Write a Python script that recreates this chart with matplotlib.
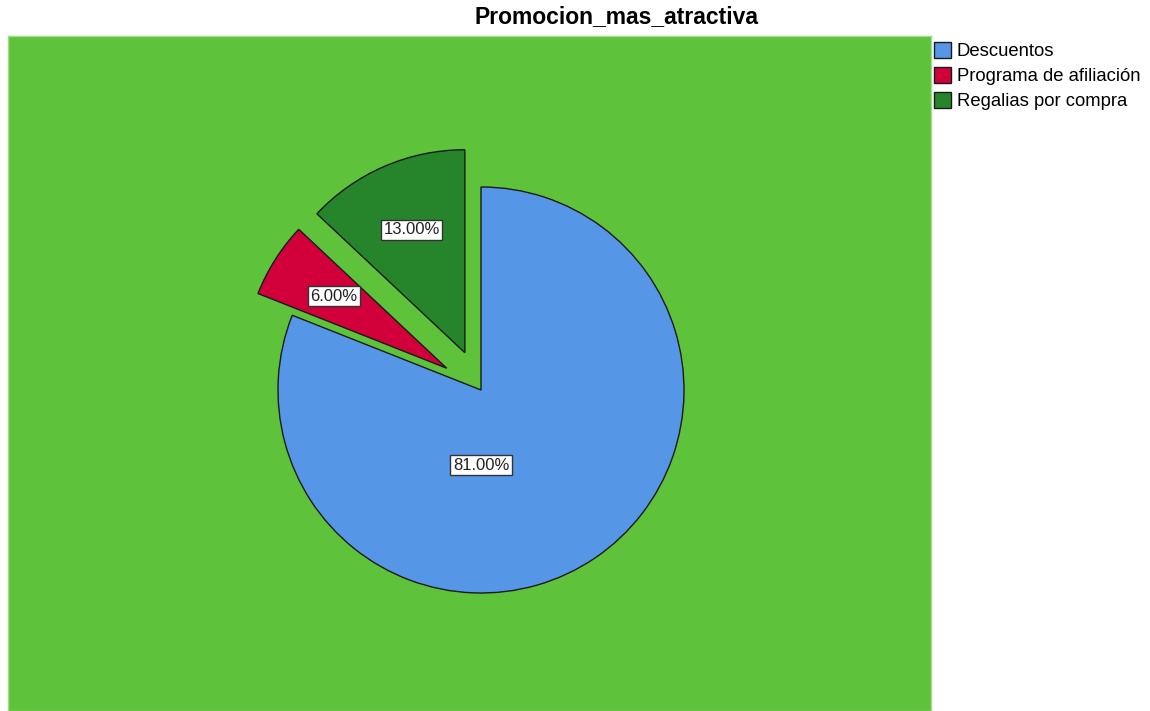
import matplotlib
matplotlib.use("Agg")
from matplotlib import pyplot as plt
from matplotlib.patches import Patch

plt.rcParams["font.family"] = ["Liberation Sans", "DejaVu Sans"]

# Chart data.
categories = ["Descuentos", "Programa de afiliación", "Regalias por compra"]
percentages = [81.0, 6.0, 13.0]
explode = [0.0, 0.2, 0.2]
colors = ["#5596e6", "#d2003a", "#26842a"]
title = "Promocion_mas_atractiva"

W, H = 1150, 711
fig = plt.figure(figsize=(W / 100, H / 100), dpi=100)

# Plot area in pixels.
left, right, top, bottom = 8, 931, 36, 711
ax = fig.add_axes([left / W, 1 - bottom / H, (right - left) / W, (bottom - top) / H])
ax.set_facecolor("#5ec33a")

wedges, texts, autotexts = ax.pie(
    percentages, explode=explode, colors=colors, startangle=90, counterclock=False,
    autopct="%.2f%%", pctdistance=0.66, frame=True,
    wedgeprops=dict(edgecolor="#1a1a1a", linewidth=1.0),
    textprops=dict(fontsize=12, color="#222222"),
)
for t in autotexts:
    t.set_bbox(dict(boxstyle="square,pad=0.15", facecolor="white", edgecolor="#333333", linewidth=1.0))
# The big slice's label sits below the centre.
autotexts[0].set_position((0.0, -0.37))

# Pie centre at (481, 390) px, radius 203 px.
cx, cy, r = 481, 390, 203
ax.set_aspect("auto")
ax.set_xlim(-(cx - left) / r, (right - cx) / r)
ax.set_ylim(-(bottom - cy) / r, (cy - top) / r)
ax.set_xticks([])
ax.set_yticks([])
for s in ax.spines.values():
    s.set_color("#9fdc8a")
    s.set_linewidth(1.0)

fig.text(617 / W, 1 - 17 / H, title, ha="center", va="center",
         fontsize=16.5, fontweight="bold")

handles = [Patch(facecolor=c, edgecolor="#1a1a1a", linewidth=1.0) for c in colors]
fig.legend(handles, categories, loc="upper left", bbox_to_anchor=(931 / W, 1 - 39 / H),
           frameon=False, fontsize=13.3, handlelength=0.95, handleheight=1.0,
           handletextpad=0.3, labelspacing=0.35, borderaxespad=0, borderpad=0.15)

fig.savefig("out.png", dpi=100)
